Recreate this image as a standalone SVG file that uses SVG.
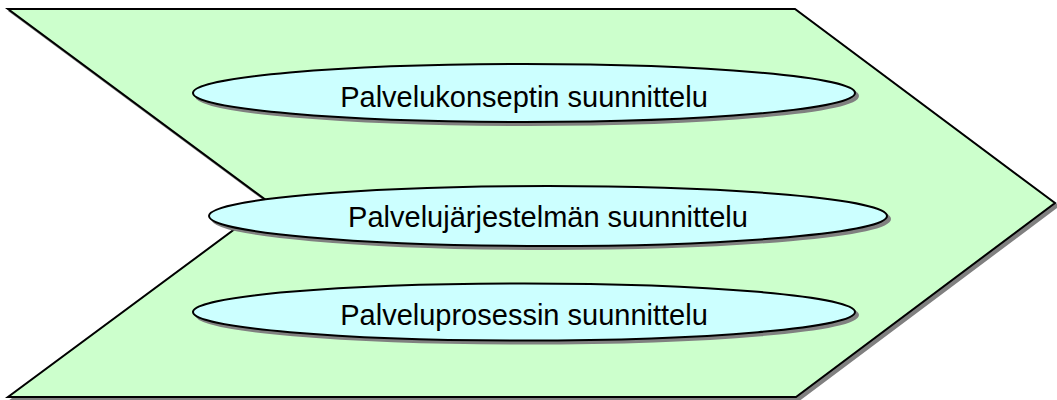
<svg xmlns="http://www.w3.org/2000/svg" width="1057" height="400" viewBox="0 0 1057 400">
  <style>
    .shadow { fill: #808080; stroke: #808080; stroke-width: 2; }
    .chev { fill: #CCFFCC; stroke: #000; stroke-width: 2; stroke-linejoin: miter; }
    .oval { fill: #CCFFFF; stroke: #000; stroke-width: 2; }
    .label { font-family: "Liberation Sans", Arial, sans-serif; font-size: 29px; fill: #000; text-anchor: middle; }
  </style>
  <defs>
    <polygon id="chevShape" points="8,9 795,9 1055,203 796,397 8,397 270,203"/>
  </defs>

  <!-- background chevron -->
  <g id="chevron">
    <use href="#chevShape" class="shadow" transform="translate(3,3)"/>
    <use href="#chevShape" class="chev"/>
  </g>

  <g id="connectors"/>

  <g id="node-konsepti">
    <ellipse class="shadow" cx="527" cy="96" rx="331" ry="29"/>
    <ellipse class="oval" cx="524" cy="93" rx="331" ry="29"/>
    <text class="label" x="524" y="107">Palvelukonseptin suunnittelu</text>
  </g>

  <g id="node-jarjestelma">
    <ellipse class="shadow" cx="551" cy="219" rx="339" ry="30"/>
    <ellipse class="oval" cx="548" cy="216" rx="339" ry="30"/>
    <text class="label" x="548" y="227">Palvelujärjestelmän suunnittelu</text>
  </g>

  <g id="node-prosessi">
    <ellipse class="shadow" cx="527" cy="315" rx="331" ry="28.5"/>
    <ellipse class="oval" cx="524" cy="312" rx="331" ry="28.5"/>
    <text class="label" x="524" y="325">Palveluprosessin suunnittelu</text>
  </g>
</svg>
